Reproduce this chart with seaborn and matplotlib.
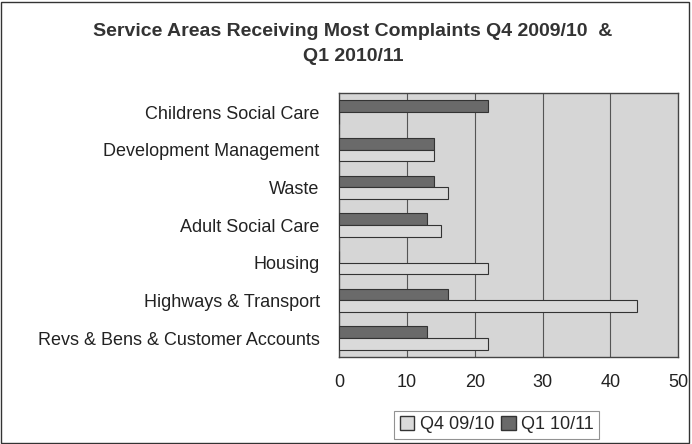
import matplotlib
matplotlib.use("Agg")
import matplotlib.pyplot as plt
import seaborn as sns
import pandas as pd
from matplotlib.patches import Patch, Rectangle

categories = ["Childrens Social Care", "Development Management", "Waste",
              "Adult Social Care", "Housing", "Highways & Transport",
              "Revs & Bens & Customer Accounts"]
q4_0910 = [0, 14, 16, 15, 22, 44, 22]
q1_1011 = [22, 14, 14, 13, 0, 16, 13]
series_names = ["Q4 09/10", "Q1 10/11"]
x_ticks = [0, 10, 20, 30, 40, 50]

df = pd.DataFrame({
    "Service": categories * 2,
    "Series": [series_names[0]] * len(categories) + [series_names[1]] * len(categories),
    "Complaints": q4_0910 + q1_1011,
})

sns.set_theme(style="white")
plt.rcParams["font.family"] = ["Liberation Sans", "DejaVu Sans"]

light = "#dadada"
dark = "#6a6a6a"

fig = plt.figure(figsize=(6.92, 4.44), dpi=100)
ax = fig.add_axes([0.49, 0.196, 0.49, 0.594])
ax.set_facecolor("#d6d6d6")

sns.barplot(data=df, y="Service", x="Complaints", hue="Series",
            hue_order=[series_names[1], series_names[0]], order=categories,
            palette={series_names[0]: light, series_names[1]: dark},
            orient="h", width=0.62, edgecolor="#333333", linewidth=0.8,
            ax=ax, legend=False, zorder=3)

ax.set_xlim(0, 50)
ax.set_xticks(x_ticks)
ax.set_xticklabels([str(t) for t in x_ticks], fontsize=13, color="#222222")
ax.tick_params(axis="y", labelsize=13, colors="#222222", length=0, pad=14)
ax.tick_params(axis="x", length=0, pad=12)
ax.set_xlabel("")
ax.set_ylabel("")
for t in x_ticks[1:-1]:
    ax.axvline(t, color="#555555", linewidth=0.8, zorder=1)
for s in ax.spines.values():
    s.set_visible(True)
    s.set_color("#444444")
    s.set_linewidth(1.0)

fig.text(0.51, 0.93, "Service Areas Receiving Most Complaints Q4 2009/10  &",
         ha="center", va="center", fontsize=14, fontweight="bold", color="#333333")
fig.text(0.51, 0.872, "Q1 2010/11", ha="center", va="center",
         fontsize=14, fontweight="bold", color="#333333")

handles = [Patch(facecolor=light, edgecolor="#333333"),
           Patch(facecolor=dark, edgecolor="#333333")]
leg = fig.legend(handles, series_names, loc="center", bbox_to_anchor=(0.718, 0.043),
                 ncol=2, frameon=True, fontsize=13, handlelength=0.8, handleheight=0.8,
                 handletextpad=0.3, columnspacing=0.4, borderpad=0.3, fancybox=False)
leg.get_frame().set_edgecolor("#777777")
leg.get_frame().set_linewidth(0.8)

fig.patches.append(Rectangle((0.002, 0.002), 0.994, 0.994, transform=fig.transFigure,
                             fill=False, edgecolor="#333333", linewidth=1.0))

fig.savefig("out.png", dpi=100)
